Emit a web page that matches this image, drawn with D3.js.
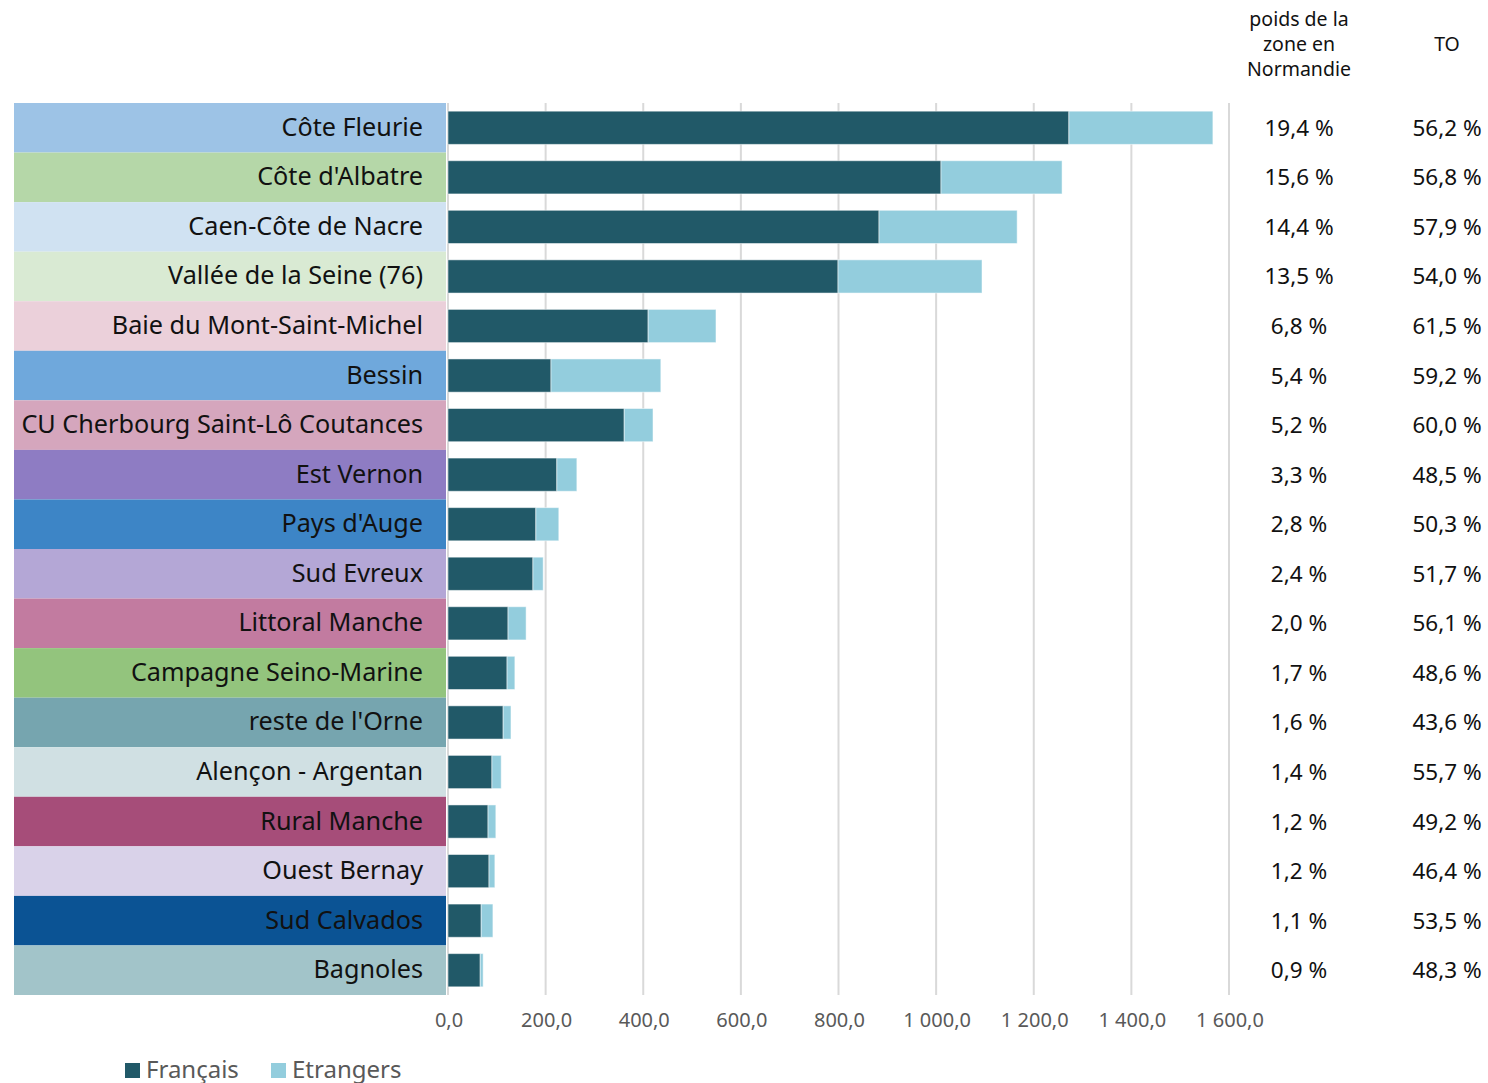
<!DOCTYPE html>
<html>
<head>
<meta charset="UTF-8">
<script src="https://d3js.org/d3.v7.min.js"></script>
<style>
  body { margin: 0; background: #fff; }
  text { font-family: "Noto Sans", "Open Sans", sans-serif; }
</style>
</head>
<body>
<div id="chart"></div>
<script>
// zones, sorted as in the source
var zones = ["Côte Fleurie", "Côte d'Albatre", "Caen-Côte de Nacre", "Vallée de la Seine (76)",
  "Baie du Mont-Saint-Michel", "Bessin", "CU Cherbourg Saint-Lô Coutances", "Est Vernon",
  "Pays d'Auge", "Sud Evreux", "Littoral Manche", "Campagne Seino-Marine", "reste de l'Orne",
  "Alençon - Argentan", "Rural Manche", "Ouest Bernay", "Sud Calvados", "Bagnoles"];
var francais = [1272, 1010, 883, 799, 410, 211, 361, 223, 180, 174, 123, 121, 113, 90, 82, 84, 68, 66];
var etrangers = [295, 248, 283, 295, 139, 225, 59, 41, 47, 21, 37, 16, 16, 19, 16, 12, 24, 6];
var poids = ["19,4 %", "15,6 %", "14,4 %", "13,5 %", "6,8 %", "5,4 %", "5,2 %", "3,3 %", "2,8 %",
  "2,4 %", "2,0 %", "1,7 %", "1,6 %", "1,4 %", "1,2 %", "1,2 %", "1,1 %", "0,9 %"];
var to = ["56,2 %", "56,8 %", "57,9 %", "54,0 %", "61,5 %", "59,2 %", "60,0 %", "48,5 %", "50,3 %",
  "51,7 %", "56,1 %", "48,6 %", "43,6 %", "55,7 %", "49,2 %", "46,4 %", "53,5 %", "48,3 %"];
var zoneColors = ["#9dc3e6", "#b5d7a8", "#d0e2f2", "#d9ead3", "#ebd0da", "#6fa8dc", "#d5a6bd",
  "#8e7cc3", "#3d85c6", "#b4a7d6", "#c27ba0", "#93c47d", "#76a5af", "#d0e0e3", "#a64d79",
  "#d9d2e9", "#0b5394", "#a2c4c9"];
var xTicks = [0, 200, 400, 600, 800, 1000, 1200, 1400, 1600];

var W = 1488, H = 1083;
var svg = d3.select("#chart").append("svg").attr("width", W).attr("height", H);

var x = d3.scaleLinear().domain([0, 1600]).range([448, 1229]);
var yRow = d3.scaleBand().domain(zones).range([103, 995]);
var yBar = d3.scaleBand().domain(zones).range([103, 995]).paddingInner(0.33).paddingOuter(0.165);

var fmt = function(v) {
  var s = d3.format(",.1f")(v);
  return s.replace(/,/g, " ").replace(".", ",");
};

// gridlines
svg.append("g").selectAll("line").data(xTicks).join("line")
  .attr("x1", d => x(d)).attr("x2", d => x(d))
  .attr("y1", 103).attr("y2", 995)
  .attr("stroke", "#d9d9d9").attr("stroke-width", 2);

// axis labels
svg.append("g").selectAll("text").data(xTicks).join("text")
  .attr("x", d => x(d) + 1).attr("y", 1027)
  .attr("text-anchor", "middle")
  .attr("font-size", 20).attr("fill", "#595959")
  .text(d => fmt(d));

// colored label cells
var rows = svg.append("g");
rows.selectAll("rect").data(zones).join("rect")
  .attr("x", 14).attr("width", 432)
  .attr("y", d => yRow(d)).attr("height", yRow.bandwidth())
  .attr("fill", (d, i) => zoneColors[i]);
rows.selectAll("text").data(zones).join("text")
  .attr("x", 423).attr("y", d => yRow(d) + yRow.bandwidth() / 2 + 8)
  .attr("text-anchor", "end").attr("font-size", 25.2).attr("fill", "#111")
  .text(d => d);

// stacked bars
var table = zones.map((z, i) => ({zone: z, "Français": francais[i], "Etrangers": etrangers[i]}));
var stack = d3.stack().keys(["Français", "Etrangers"])(table);
var barColors = {"Français": "#215968", "Etrangers": "#93cddd"};
svg.append("g").selectAll("g").data(stack).join("g")
  .attr("fill", d => barColors[d.key])
  .selectAll("rect").data(d => d).join("rect")
  .attr("x", d => x(d[0])).attr("width", d => x(d[1]) - x(d[0]))
  .attr("y", d => yBar(d.data.zone)).attr("height", yBar.bandwidth())
  .attr("stroke", "#fff").attr("stroke-opacity", 0.5).attr("stroke-width", 1);

// right-hand columns
svg.append("g").selectAll("text").data(zones).join("text")
  .attr("x", 1299).attr("y", d => yRow(d) + yRow.bandwidth() / 2 + 8)
  .attr("text-anchor", "middle").attr("font-size", 22.5).attr("fill", "#111")
  .text((d, i) => poids[i]);
svg.append("g").selectAll("text").data(zones).join("text")
  .attr("x", 1447).attr("y", d => yRow(d) + yRow.bandwidth() / 2 + 8)
  .attr("text-anchor", "middle").attr("font-size", 22.5).attr("fill", "#111")
  .text((d, i) => to[i]);

var hdr = ["poids de la", "zone en", "Normandie"];
svg.append("g").selectAll("text").data(hdr).join("text")
  .attr("x", 1299).attr("y", (d, i) => 26 + i * 25)
  .attr("text-anchor", "middle").attr("font-size", 19.5).attr("fill", "#111")
  .text(d => d);
svg.append("text").attr("x", 1447).attr("y", 51)
  .attr("text-anchor", "middle").attr("font-size", 19.5).attr("fill", "#111")
  .text("TO");

// legend
var legend = svg.append("g").selectAll("g").data(["Français", "Etrangers"]).join("g")
  .attr("transform", (d, i) => "translate(" + (125 + i * 146) + ",0)");
legend.append("rect").attr("x", 0).attr("y", 1063).attr("width", 15).attr("height", 15)
  .attr("fill", d => barColors[d]);
legend.append("text").attr("x", 21).attr("y", 1078)
  .attr("font-size", 24).attr("fill", "#595959").text(d => d);
</script>
</body>
</html>
